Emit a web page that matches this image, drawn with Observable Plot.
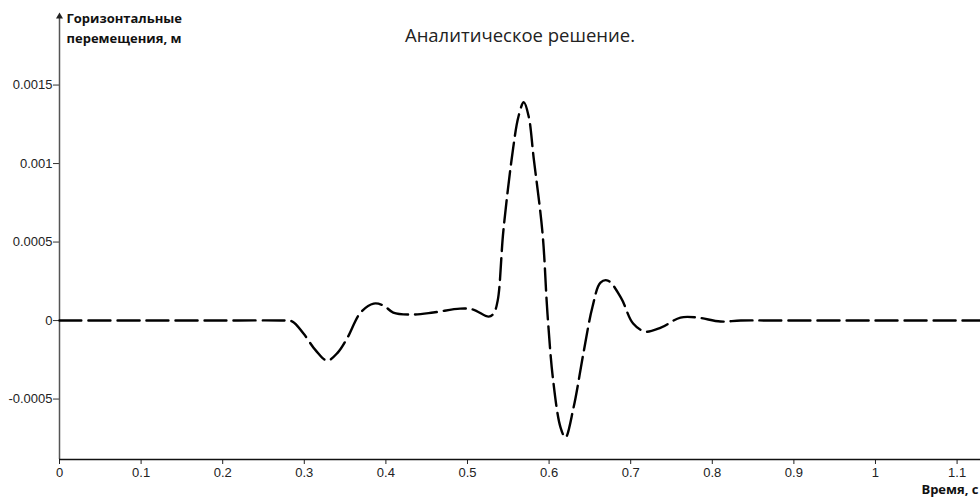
<!DOCTYPE html>
<html>
<head>
<meta charset="utf-8">
<script src="https://cdn.jsdelivr.net/npm/d3@7"></script>
<script src="https://cdn.jsdelivr.net/npm/@observablehq/plot@0.6"></script>
<style>
  html, body { margin: 0; padding: 0; background: #fff; }
  #chart { width: 980px; height: 499px; }
</style>
</head>
<body>
<div id="chart"></div>
<script>
// Time, s
const time = [0, 0.1, 0.2, 0.271, 0.285, 0.299, 0.314, 0.328, 0.341, 0.353, 0.369, 0.385, 0.397, 0.409, 0.430, 0.458, 0.491, 0.507, 0.526, 0.532, 0.537, 0.544, 0.556, 0.5625, 0.569, 0.575, 0.581, 0.592, 0.598, 0.605, 0.614, 0.620, 0.630, 0.642, 0.653, 0.663, 0.672, 0.688, 0.703, 0.718, 0.737, 0.761, 0.782, 0.810, 0.835, 0.9, 1.0, 1.1, 1.129];
// Horizontal displacement, m
const disp = [0, 0, 0, 0, -0.000005, -0.000083, -0.00019, -0.000255, -0.000204, -0.000108, 0.000051, 0.000108, 0.000096, 0.000051, 0.000038, 0.000051, 0.000076, 0.00007, 0.000025, 0.000045, 0.000127, 0.000573, 0.0011, 0.0013, 0.00139, 0.0013, 0.00104, 0.000554, 0.000045, -0.000382, -0.00068, -0.000745, -0.000554, -0.00021, 0.000083, 0.000242, 0.000255, 0.000146, -0.000019, -0.00007, -0.000045, 0.000019, 0.000019, -0.000006, 0, 0, 0, 0, 0];

const xTicks = [0, 0.1, 0.2, 0.3, 0.4, 0.5, 0.6, 0.7, 0.8, 0.9, 1, 1.1];
const xTickLabels = ["0", "0.1", "0.2", "0.3", "0.4", "0.5", "0.6", "0.7", "0.8", "0.9", "1", "1.1"];
const yTicks = [-0.0005, 0, 0.0005, 0.001, 0.0015];
const yTickLabels = ["-0.0005", "0", "0.0005", "0.001", "0.0015"];

const title = "Аналитическое решение.";
const yLabel = "Горизонтальные\nперемещения, м";
const xLabel = "Время, с";

const data = time.map((t, i) => ({t, u: disp[i]}));
const yMin = -0.000885, yMax = 0.001943;
const xMax = 1.1287;

const plot = Plot.plot({
  width: 980,
  height: 499,
  marginLeft: 59,
  marginRight: 0,
  marginTop: 15,
  marginBottom: 40,
  style: {fontFamily: "Arial, 'Liberation Sans', sans-serif", fontSize: "13px", background: "#fff", color: "#222"},
  x: {domain: [0, xMax], range: [59, 980]},
  y: {domain: [yMin, yMax]},
  marks: [
    Plot.axisX({ticks: xTicks, tickFormat: (d) => xTickLabels[xTicks.indexOf(d)], tickSize: 5, tickPadding: 3, label: null, stroke: "#222", fontSize: 13}),
    Plot.axisY({ticks: yTicks, tickFormat: (d) => yTickLabels[yTicks.indexOf(d)], tickSize: 6, tickPadding: 1, label: null, stroke: "#333", fontSize: 13}),
    Plot.ruleX([0], {y1: yMin, y2: yMax, stroke: "#555", strokeWidth: 1.5}),
    Plot.ruleY([yMin], {x1: 0, x2: xMax, stroke: "#111", strokeWidth: 1.5}),
    Plot.dot([{t: 0, u: yMax}], {x: "t", y: "u", symbol: "triangle", r: 2.6, fill: "#222", stroke: null, dy: 1}),
    Plot.line(data, {x: "t", y: "u", curve: "catmull-rom", stroke: "#000", strokeWidth: 2.4, strokeDasharray: "22,7"}),
    Plot.text([title], {frameAnchor: "top", dy: 13, fontSize: 18.5, fill: "#222", fontFamily: "'Open Sans', sans-serif"}),
    Plot.text([yLabel], {frameAnchor: "top-left", textAnchor: "start", lineAnchor: "top", dx: 7, dy: -6, lineHeight: 1.5, fontSize: 13, fontWeight: "bold", fill: "#111", fontFamily: "'Open Sans', sans-serif"}),
    Plot.text([xLabel], {frameAnchor: "bottom-right", textAnchor: "end", lineAnchor: "middle", dx: -2, dy: 30, fontSize: 13, fontWeight: "bold", fill: "#111", fontFamily: "'Open Sans', sans-serif"})
  ]
});
document.getElementById("chart").appendChild(plot);
</script>
</body>
</html>
